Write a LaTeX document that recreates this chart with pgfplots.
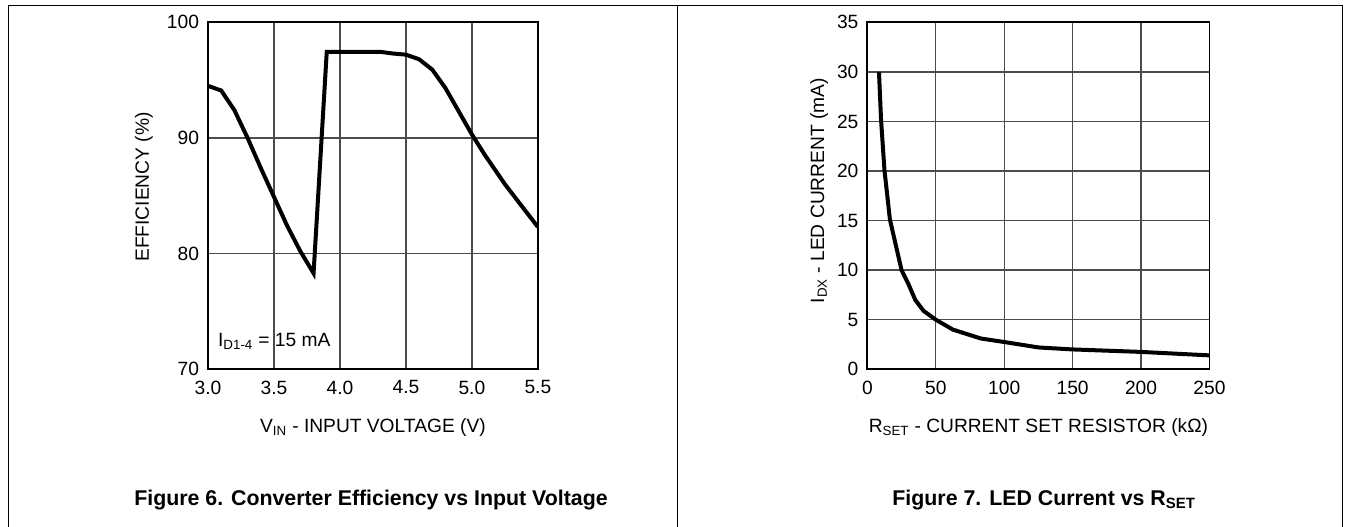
\documentclass[border=0pt]{standalone}
\usepackage{fontspec}
\setmainfont{Liberation Sans}
\usepackage{pgfplots}
\usepackage{pgfplotstable}
\pgfplotsset{compat=1.18}

% 1 px of the reference = 0.75pt
\newcommand\lbl{\fontsize{14.4pt}{17pt}\selectfont}
\newcommand\capfont{\fontsize{16pt}{18pt}\selectfont\bfseries}

\pgfplotstableread{
v eff
3.0 94.5
3.1 94.1
3.2 92.4
3.3 90.0
3.4 87.4
3.5 84.9
3.6 82.4
3.7 80.2
3.8 78.3
3.9 97.45
4.0 97.45
4.3 97.45
4.4 97.3
4.5 97.2
4.6 96.8
4.7 95.9
4.8 94.3
4.9 92.3
5.0 90.3
5.1 88.5
5.25 86.0
5.5 82.3
}\efftable

\pgfplotstableread{
r i
8.5 30.0
10 25.2
12.5 20.1
16.5 15.1
25 10.0
30 8.6
35 7.0
41 5.9
50 5.0
62.5 4.0
83 3.1
100 2.75
125 2.2
150 2.0
200 1.75
250 1.4
}\ledtable

\pgfplotsset{sheet/.style={
  scale only axis,
  height=260.25pt,
  anchor=south west,
  grid=major,
  major grid style={line width=1pt, black!70},
  axis line style={line width=1.4pt},
  major tick length=0pt,
  /pgf/number format/assume math mode=true,
  tick label style={font=\lbl},
  xticklabel style={yshift=-5pt},
  yticklabel style={xshift=-3.2pt},
  label style={font=\lbl},
  xlabel style={at={(axis description cs:0.5,0)}, anchor=base, yshift=-47.6pt},
  ylabel style={anchor=center},
}}

\begin{document}
\begin{tikzpicture}
\useasboundingbox (0,0) rectangle (1013.25pt,395.25pt);
\draw[line width=0.75pt] (6pt,0) -- (6pt,390.75pt) -- (1006.5pt,390.75pt) -- (1006.5pt,0);
\draw[line width=0.75pt] (508.1pt,0) -- (508.1pt,390.75pt);

\begin{axis}[sheet,
  at={(156pt,118.3pt)},
  width=247.4pt,
  xmin=3, xmax=5.5, ymin=70, ymax=100,
  xtick={3,3.5,4,4.5,5,5.5},
  xticklabels={3.0,3.5,4.0,4.5,5.0,5.5},
  ytick={70,80,90,100},
  xlabel={V\textsubscript{IN} - INPUT VOLTAGE (V)},
  ylabel={EFFICIENCY (\%)},
  ylabel style={at={(axis description cs:0,0.525)}, yshift=48pt},
]
\addplot[line width=3pt, black] table[x=v, y=eff] {\efftable};
\node[anchor=base west, inner sep=0pt, font=\lbl] at (axis cs:3.075,71.95) {I\textsubscript{D1-4} = 15 mA};
\end{axis}

\begin{axis}[sheet,
  at={(650.5pt,118.3pt)},
  width=256.6pt,
  xmin=0, xmax=250, ymin=0, ymax=35,
  xtick={0,50,...,250},
  ytick={0,5,...,35},
  xlabel={R\textsubscript{SET} - CURRENT SET RESISTOR (kΩ)},
  ylabel={I\textsubscript{DX} - LED CURRENT (mA)},
  ylabel style={at={(axis description cs:0,0.515)}, yshift=36.2pt},
]
\addplot[line width=3pt, black] table[x=r, y=i] {\ledtable};
\end{axis}

\node[font=\capfont] at (278.25pt,20.25pt) {Figure 6. Converter Efficiency vs Input Voltage};
\node[font=\capfont] at (783pt,20.25pt) {Figure 7. LED Current vs R\textsubscript{SET}};
\end{tikzpicture}
\end{document}
